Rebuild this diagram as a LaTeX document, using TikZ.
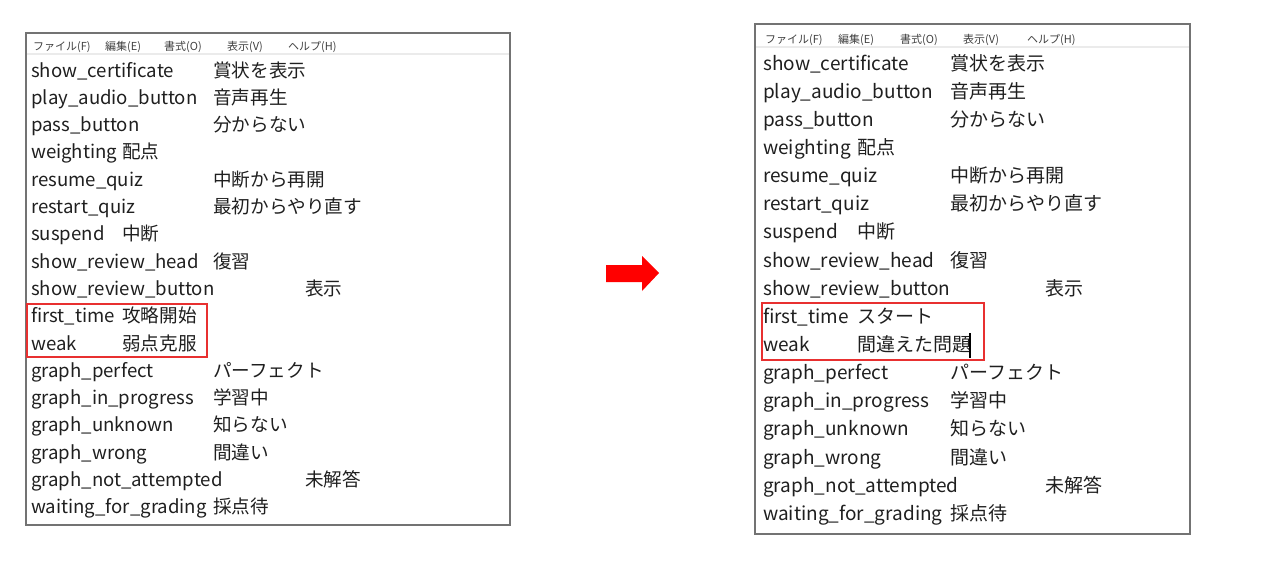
\documentclass[tikz,border=0pt]{standalone}
\usepackage{fontspec}
\setmainfont{Noto Sans CJK JP}
\tikzset{>=stealth}
\definecolor{boxred}{RGB}{232,48,48}
\tikzset{
  item/.style={anchor=base west, inner sep=0pt, font=\fontsize{18.6}{18.6}\selectfont, text=black!88},
  itemR/.style={item, font=\fontsize{19}{19}\selectfont},
  menu/.style={anchor=base west, inner sep=0pt, font=\fontsize{11}{12}\selectfont, text=black!75},
  panel/.style={draw=black!55, line width=1.3pt},
  hilite/.style={draw=boxred, line width=1.2pt},
}
\begin{document}
\begin{tikzpicture}[x=1pt, y=-1pt]
    \useasboundingbox (0,0) rectangle (1278,562);
    % left window
    \draw[panel] (26,33) rectangle (510,525);
    \draw[black!8, line width=1.5pt] (27,54) -- (509,54);
    \foreach \m/\x in {ファイル(F)/33, 編集(E)/105, 書式(O)/164, 表示(V)/227, ヘルプ(H)/288}
        \node[menu] at (\x,50) {\m};
    \foreach \i/\key/\jp/\x in {0/show\_certificate/賞状を表示/213, 1/play\_audio\_button/音声再生/213,
        2/pass\_button/分からない/213, 3/weighting/配点/122, 4/resume\_quiz/中断から再開/213,
        5/restart\_quiz/最初からやり直す/213, 6/suspend/中断/122, 7/show\_review\_head/復習/213,
        8/show\_review\_button/表示/305, 9/first\_time/攻略開始/122, 10/weak/弱点克服/122,
        11/graph\_perfect/パーフェクト/213, 12/graph\_in\_progress/学習中/213, 13/graph\_unknown/知らない/213,
        14/graph\_wrong/間違い/213, 15/graph\_not\_attempted/未解答/305, 16/waiting\_for\_grading/採点待/213}
    {
        \node[item] (l\i) at (31,{77+27.3*\i}) {\key};
        \node[item] (lj\i) at (\x,{77+27.3*\i}) {\jp};
    }
    \draw[hilite] (27,304) rectangle (207,357);
    % arrow
    \fill[red] (606,265) -- (642,265) -- (642,256) -- (659,273) -- (642,291) -- (642,282) -- (606,282) -- cycle;
    % right window
    \draw[panel] (755,24) rectangle (1190,534);
    \draw[black!8, line width=1.5pt] (756,47) -- (1189,47);
    \foreach \m/\x in {ファイル(F)/765, 編集(E)/838, 書式(O)/900, 表示(V)/963, ヘルプ(H)/1027}
        \node[menu] at (\x,43) {\m};
    \foreach \i/\key/\jp/\x in {0/show\_certificate/賞状を表示/950, 1/play\_audio\_button/音声再生/950,
        2/pass\_button/分からない/950, 3/weighting/配点/857, 4/resume\_quiz/中断から再開/950,
        5/restart\_quiz/最初からやり直す/950, 6/suspend/中断/857, 7/show\_review\_head/復習/950,
        8/show\_review\_button/表示/1045, 9/first\_time/スタート/857, 10/weak/間違えた問題/857,
        11/graph\_perfect/パーフェクト/950, 12/graph\_in\_progress/学習中/950, 13/graph\_unknown/知らない/950,
        14/graph\_wrong/間違い/950, 15/graph\_not\_attempted/未解答/1045, 16/waiting\_for\_grading/採点待/950}
    {
        \node[itemR] (r\i) at (763,{70+28.15*\i}) {\key};
        \node[itemR] (rj\i) at (\x,{70+28.15*\i}) {\jp};
    }
    \draw[hilite] (762,303) rectangle (984,360);
    \draw[black, line width=1.5pt] (970,333) -- (970,358);
\end{tikzpicture}
\end{document}
